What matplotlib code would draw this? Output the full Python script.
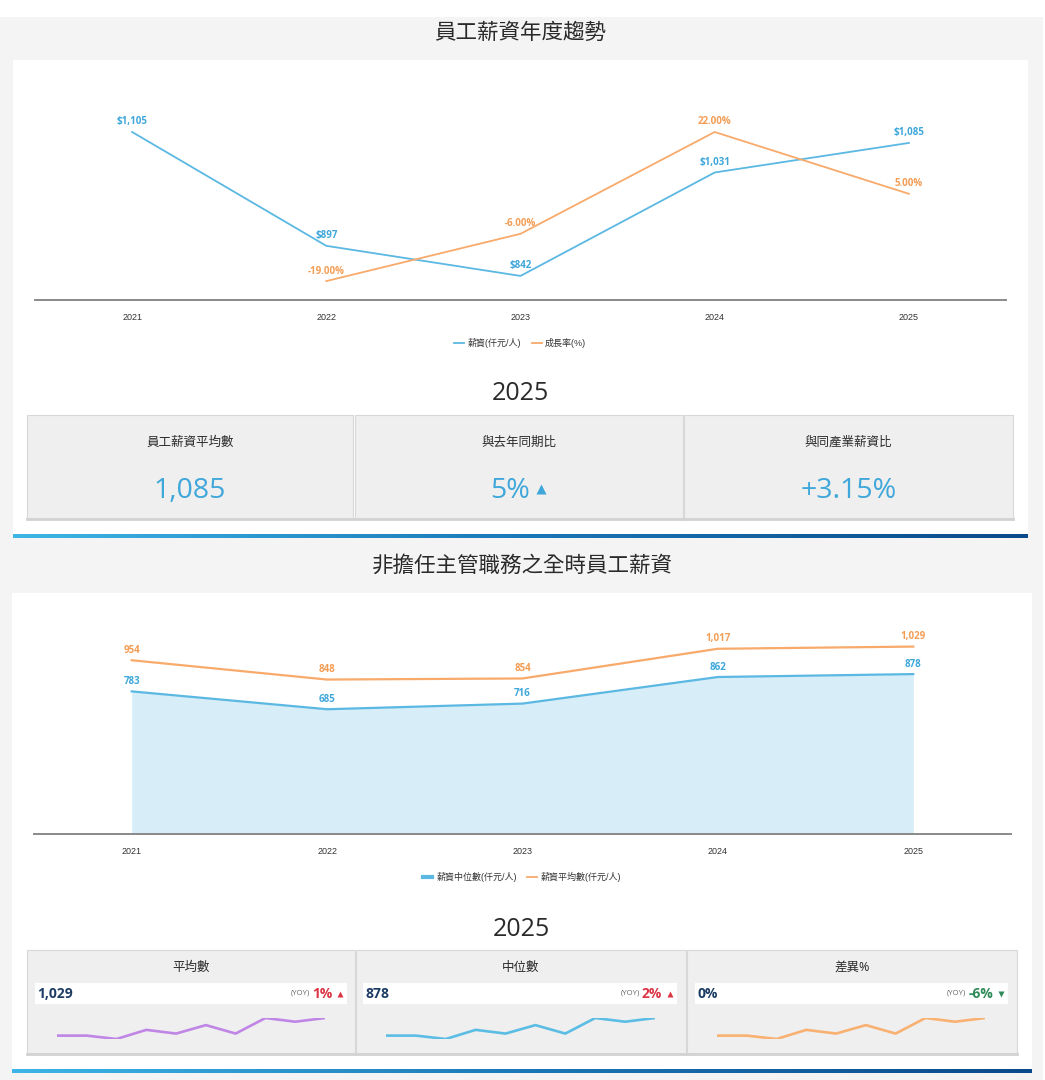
import numpy as np
import matplotlib
matplotlib.use("Agg")
from matplotlib import pyplot as plt
from matplotlib.patches import Rectangle
from matplotlib.colors import LinearSegmentedColormap

plt.rcParams['font.family'] = ['Open Sans', 'Noto Sans CJK TC', 'DejaVu Sans']

# ---- data ----
years = ['2021', '2022', '2023', '2024', '2025']
salary = [1105, 897, 842, 1031, 1085]
growth = [None, -19.0, -6.0, 22.0, 5.0]

median_pay = [783, 685, 716, 862, 878]
mean_pay = [954, 848, 854, 1017, 1029]

kpi_titles = ['員工薪資平均數', '與去年同期比', '與同產業薪資比']
kpi_values = ['1,085', '5%', '+3.15%']

card_titles = ['平均數', '中位數', '差異%']
card_values = ['1,029', '878', '0%']
card_yoy = ['1%', '2%', '-6%']
card_up = [True, True, False]
spark_vals = [13, 13, 3, 30, 19, 44, 19, 65, 54, 65]

W, H = 1045, 1080
BLUE = '#5bb8e2'
BLUE_TXT = '#3fa7da'
ORANGE = '#f8aa6b'
ORANGE_TXT = '#f49d55'
DARK = '#2a2a2a'
TICK_FONT = ['Liberation Sans', 'Noto Sans CJK TC', 'DejaVu Sans']
spark_colors = ['#bf86e6', '#5bbde4', '#f9b172']

fig = plt.figure(figsize=(W / 100, H / 100), dpi=100)
fig.patch.set_facecolor('white')


def px_axes(x0, y0, x1, y1):
    return fig.add_axes([x0 / W, 1 - y1 / H, (x1 - x0) / W, (y1 - y0) / H])


bg = fig.add_axes([0, 0, 1, 1])
bg.axis('off')

# page background and panels
bg.add_patch(Rectangle((0, 17), 1043, H - 17, color='#f4f4f4', lw=0))
bg.add_patch(Rectangle((13, 60), 1015, 474, color='white', lw=0))
bg.add_patch(Rectangle((12, 593), 1020, 476, color='white', lw=0))

grad = LinearSegmentedColormap.from_list('g', ['#3db5e6', '#1a78b8', '#0b4a8a'])
gimg = np.linspace(0, 1, 256).reshape(1, -1)
bg.imshow(gimg, cmap=grad, extent=(13, 1028, 538, 534), aspect='auto', zorder=3)
bg.imshow(gimg, cmap=grad, extent=(12, 1032, 1073, 1069), aspect='auto', zorder=3)

bg.text(520, 33, '員工薪資年度趨勢', ha='center', va='center', fontsize=15.5,
        color=DARK, fontweight='medium')
bg.text(522, 566, '非擔任主管職務之全時員工薪資', ha='center', va='center', fontsize=15.5,
        color=DARK, fontweight='medium')
bg.text(520, 394, '2025', ha='center', va='center', fontsize=18, color=DARK)
bg.text(521, 930, '2025', ha='center', va='center', fontsize=18, color=DARK)

# top KPI boxes
top_boxes = [(27, 353), (355, 683), (684, 1013)]
for (x0, x1), t, v in zip(top_boxes, kpi_titles, kpi_values):
    bg.add_patch(Rectangle((x0, 415), x1 - x0, 104, facecolor='#efefef',
                           edgecolor='#d8d8d8', lw=0.8))
    bg.plot([x0, x1], [518.5, 518.5], color='#d2d2d2', lw=2)
    cx = (x0 + x1) / 2
    bg.text(cx, 442, t, ha='center', va='center', fontsize=9, color=DARK)
    if v == '5%':
        bg.text(cx + 11, 491, v, ha='right', va='center', fontsize=20.5, color=BLUE_TXT)
        bg.plot(cx + 22, 489, marker='^', ms=7, color=BLUE_TXT, mec='none')
    else:
        bg.text(cx, 491, v, ha='center', va='center', fontsize=20.5, color=BLUE_TXT)

# bottom KPI cards
bot_boxes = [(27, 355), (356, 686), (687, 1017)]
inner = [(35, 347), (363, 677), (695, 1008)]
spark_x = [(57, 325), (386, 655), (717, 985)]
for i, ((x0, x1), (i0, i1)) in enumerate(zip(bot_boxes, inner)):
    bg.add_patch(Rectangle((x0, 950), x1 - x0, 104, facecolor='#efefef',
                           edgecolor='#d8d8d8', lw=0.8))
    bg.plot([x0, x1], [1053.5, 1053.5], color='#d2d2d2', lw=2)
    bg.text((x0 + x1) / 2, 967, card_titles[i], ha='center', va='center',
            fontsize=9, color=DARK)
    bg.add_patch(Rectangle((i0, 983), i1 - i0, 21, facecolor='white', lw=0))
    bg.text(i0 + 2, 994, card_values[i], ha='left', va='center', fontsize=10,
            fontweight='bold', color='#1d3c64')
    col = '#dc3545' if card_up[i] else '#2e8b57'
    tri_x = i1 - 7
    bg.plot(tri_x, 993.5, marker='^' if card_up[i] else 'v', ms=4.5, color=col, mec='none')
    bg.text(tri_x - 8, 994, card_yoy[i], ha='right', va='center', fontsize=10,
            fontweight='bold', color=col)
    yoy_x = tri_x - 8 - (27 if card_yoy[i].startswith('-') else 22)
    bg.text(yoy_x, 993, '(YOY)', ha='right', va='center', fontsize=5.5, color='#666666')

bg.set_xlim(0, W)
bg.set_ylim(H, 0)

# sparklines
for (sx0, sx1), col in zip(spark_x, spark_colors):
    sa = px_axes(sx0, 1018, sx1, 1039)
    sa.plot(range(len(spark_vals)), spark_vals, color=col, lw=1.9, solid_capstyle='round',
            solid_joinstyle='round')
    sa.set_xlim(0, len(spark_vals) - 1)
    sa.set_ylim(min(spark_vals), max(spark_vals))
    sa.axis('off')
    sa.patch.set_alpha(0)

xs = np.arange(len(years))

# ---- top chart ----
ax = px_axes(35, 80, 1006, 300)
ax.patch.set_alpha(0)
ax.plot(xs, salary, color=BLUE, lw=1.3)
ax.set_xlim(-0.5, 4.5)
ax.set_ylim(798, 1200)
for x, v in zip(xs, salary):
    ax.annotate(f'${v:,}', (x, v), xytext=(0, 7.2), textcoords='offset points',
                ha='center', va='center', fontsize=7, fontweight='bold', color=BLUE_TXT)
ax2 = ax.twinx()
gx = [x for x, g in zip(xs, growth) if g is not None]
gv = [g for g in growth if g is not None]
ax2.plot(gx, gv, color=ORANGE, lw=1.3)
ax2.set_ylim(-24.2, 36.3)
for x, v in zip(gx, gv):
    ax2.annotate(f'{v:.2f}%', (x, v), xytext=(0, 7.2), textcoords='offset points',
                 ha='center', va='center', fontsize=7, fontweight='bold', color=ORANGE_TXT)
for a in (ax, ax2):
    for s in ('top', 'left', 'right'):
        a.spines[s].set_visible(False)
    a.set_yticks([])
ax2.spines['bottom'].set_visible(False)
ax.spines['bottom'].set_color('#8a8a8a')
ax.spines['bottom'].set_linewidth(1.4)
ax.set_xticks(xs)
ax.set_xticklabels(years, fontsize=6.5, color='#333333', family=TICK_FONT)
ax.tick_params(axis='x', length=0, pad=9)

h1, = ax.plot([], [], color=BLUE, lw=1.3, label='薪資(仟元/人)')
h2, = ax.plot([], [], color=ORANGE, lw=1.3, label='成長率(%)')
fig.legend(handles=[h1, h2], loc='center', bbox_to_anchor=(520 / W, 1 - 343 / H),
           ncol=2, frameon=False, handlelength=1.1, handletextpad=0.4,
           columnspacing=1.2, labelcolor='#333333',
           prop={'family': TICK_FONT, 'size': 6.5})

# ---- bottom chart ----
bx = px_axes(34, 620, 1011, 834)
bx.patch.set_alpha(0)
bx.fill_between(xs, median_pay, 0, color='#d7edf8', lw=0)
bx.plot(xs, median_pay, color=BLUE, lw=1.6)
bx.plot(xs, mean_pay, color=ORANGE, lw=1.6)
bx.set_xlim(-0.5, 4.5)
bx.set_ylim(0, 1175)
for x, v in zip(xs, median_pay):
    bx.annotate(f'{v:,}', (x, v), xytext=(0, 7.2), textcoords='offset points',
                ha='center', va='center', fontsize=7, fontweight='bold', color=BLUE_TXT)
for x, v in zip(xs, mean_pay):
    bx.annotate(f'{v:,}', (x, v), xytext=(0, 7.2), textcoords='offset points',
                ha='center', va='center', fontsize=7, fontweight='bold', color=ORANGE_TXT)
for s in ('top', 'left', 'right'):
    bx.spines[s].set_visible(False)
bx.set_yticks([])
bx.spines['bottom'].set_color('#8a8a8a')
bx.spines['bottom'].set_linewidth(1.4)
bx.set_xticks(xs)
bx.set_xticklabels(years, fontsize=6.5, color='#333333', family=TICK_FONT)
bx.tick_params(axis='x', length=0, pad=9)

k1, = bx.plot([], [], color=BLUE, lw=3, label='薪資中位數(仟元/人)')
k2, = bx.plot([], [], color=ORANGE, lw=1.3, label='薪資平均數(仟元/人)')
fig.legend(handles=[k1, k2], loc='center', bbox_to_anchor=(522 / W, 1 - 877 / H),
           ncol=2, frameon=False, handlelength=1.1, handletextpad=0.4,
           columnspacing=1.2, labelcolor='#333333',
           prop={'family': TICK_FONT, 'size': 6.5})

fig.savefig('out.png', dpi=100, facecolor=fig.get_facecolor())
